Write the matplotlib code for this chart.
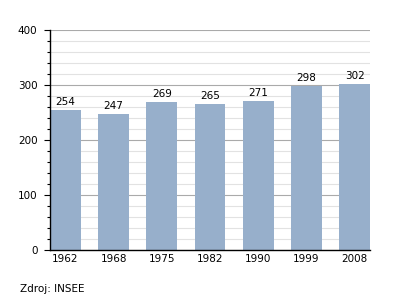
import matplotlib.pyplot as plt
from matplotlib.ticker import MultipleLocator

years = ['1962', '1968', '1975', '1982', '1990', '1999', '2008']
population = [254, 247, 269, 265, 271, 298, 302]

fig = plt.figure(figsize=(4, 3), dpi=100)
ax = fig.add_axes([50/400, 50/300, 320/400, 220/300])
ax.set_axisbelow(True)

x = range(len(years))
w = 0.64
ax.bar(x, population, width=w, color='#97afcb', zorder=3)
for i, v in enumerate(population):
    ax.text(i, v + 6, str(v), ha='center', va='bottom', fontsize=7.5, zorder=4)

ax.set_xlim(-w/2, len(years) - 1 + w/2)
ax.set_ylim(0, 400)
ax.set_xticks(list(x))
ax.set_xticklabels(years, fontsize=7.5)
ax.tick_params(axis='x', length=0, pad=3)
ax.yaxis.set_major_locator(MultipleLocator(100))
ax.yaxis.set_minor_locator(MultipleLocator(20))
ax.tick_params(axis='y', which='major', length=4, width=0.8, labelsize=7.5, pad=5)
ax.tick_params(axis='y', which='minor', length=2.5, width=0.8)
ax.grid(axis='y', which='major', color='#aaaaaa', lw=0.8)
ax.grid(axis='y', which='minor', color='#e2e2e2', lw=0.8)

for s in ['top', 'right']:
    ax.spines[s].set_visible(False)
ax.spines['left'].set_linewidth(1)
ax.spines['bottom'].set_linewidth(1)
ax.spines['left'].set_zorder(5)
ax.spines['bottom'].set_zorder(5)

fig.text(20/400, 1 - 289/300, 'Zdroj: INSEE', fontsize=7.5, va='center', ha='left')

fig.savefig('out.png', dpi=100)
